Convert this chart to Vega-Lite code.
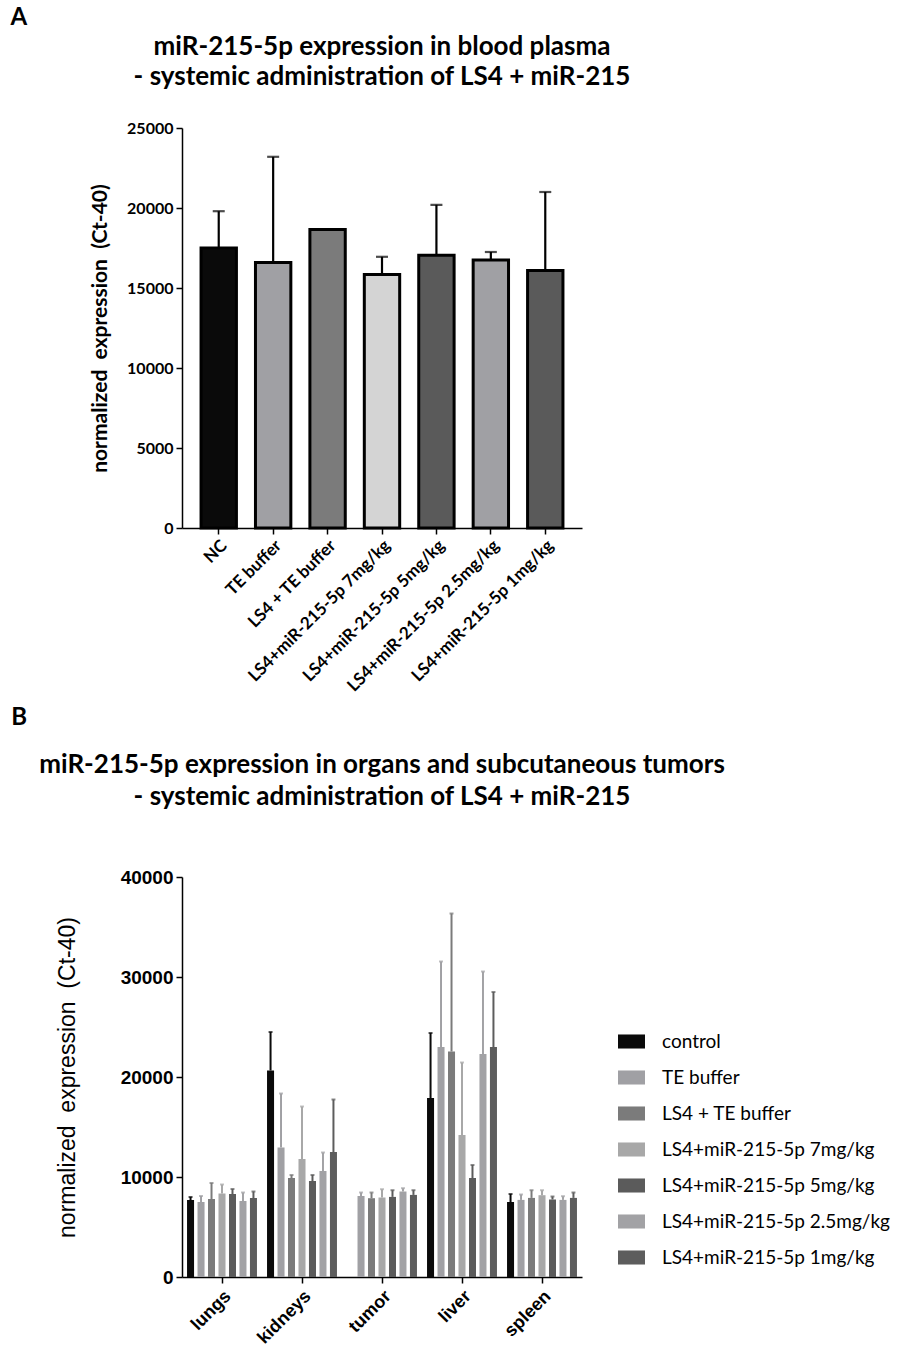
{
  "$schema": "https://vega.github.io/schema/vega-lite/v6.json",
  "background": "white",
  "padding": {"left": 10, "top": 6, "right": 5, "bottom": 5},
  "config": {
    "view": {"stroke": null},
    "axis": {"grid": false, "domainColor": "black", "tickColor": "black", "domainWidth": 1.5, "tickWidth": 1.5, "tickSize": 6, "labelColor": "black", "titleColor": "black", "labelLimit": 0}
  },
  "resolve": {"scale": {"color": "independent"}},
  "spacing": 11,
  "datasets": {
    "plasma": [
      {"grp": "NC", "value": 17500, "upper": 19800},
      {"grp": "TE buffer", "value": 16600, "upper": 23200},
      {"grp": "LS4 + TE buffer", "value": 18650, "upper": null},
      {"grp": "LS4+miR-215-5p 7mg/kg", "value": 15850, "upper": 16950},
      {"grp": "LS4+miR-215-5p 5mg/kg", "value": 17050, "upper": 20200},
      {"grp": "LS4+miR-215-5p 2.5mg/kg", "value": 16750, "upper": 17250},
      {"grp": "LS4+miR-215-5p 1mg/kg", "value": 16100, "upper": 21000}
    ],
    "organs": [
      {"organ": "lungs", "treatment": "control", "value": 7700, "upper": 8000},
      {"organ": "lungs", "treatment": "TE buffer", "value": 7500, "upper": 8100},
      {"organ": "lungs", "treatment": "LS4 + TE buffer", "value": 7800, "upper": 9400},
      {"organ": "lungs", "treatment": "LS4+miR-215-5p 7mg/kg", "value": 8350, "upper": 9250},
      {"organ": "lungs", "treatment": "LS4+miR-215-5p 5mg/kg", "value": 8300, "upper": 8800},
      {"organ": "lungs", "treatment": "LS4+miR-215-5p 2.5mg/kg", "value": 7600, "upper": 8450},
      {"organ": "lungs", "treatment": "LS4+miR-215-5p 1mg/kg", "value": 7900, "upper": 8550},
      {"organ": "kidneys", "treatment": "control", "value": 20650, "upper": 24500},
      {"organ": "kidneys", "treatment": "TE buffer", "value": 12950, "upper": 18350},
      {"organ": "kidneys", "treatment": "LS4 + TE buffer", "value": 9900, "upper": 10200},
      {"organ": "kidneys", "treatment": "LS4+miR-215-5p 7mg/kg", "value": 11800, "upper": 17050},
      {"organ": "kidneys", "treatment": "LS4+miR-215-5p 5mg/kg", "value": 9600, "upper": 10200},
      {"organ": "kidneys", "treatment": "LS4+miR-215-5p 2.5mg/kg", "value": 10600, "upper": 12450},
      {"organ": "kidneys", "treatment": "LS4+miR-215-5p 1mg/kg", "value": 12500, "upper": 17750},
      {"organ": "tumor", "treatment": "TE buffer", "value": 8100, "upper": 8450},
      {"organ": "tumor", "treatment": "LS4 + TE buffer", "value": 7880, "upper": 8450},
      {"organ": "tumor", "treatment": "LS4+miR-215-5p 7mg/kg", "value": 7950, "upper": 8780},
      {"organ": "tumor", "treatment": "LS4+miR-215-5p 5mg/kg", "value": 8010, "upper": 8680},
      {"organ": "tumor", "treatment": "LS4+miR-215-5p 2.5mg/kg", "value": 8550, "upper": 8880},
      {"organ": "tumor", "treatment": "LS4+miR-215-5p 1mg/kg", "value": 8210, "upper": 8680},
      {"organ": "liver", "treatment": "control", "value": 17900, "upper": 24400},
      {"organ": "liver", "treatment": "TE buffer", "value": 23000, "upper": 31550},
      {"organ": "liver", "treatment": "LS4 + TE buffer", "value": 22550, "upper": 36350},
      {"organ": "liver", "treatment": "LS4+miR-215-5p 7mg/kg", "value": 14200, "upper": 21450},
      {"organ": "liver", "treatment": "LS4+miR-215-5p 5mg/kg", "value": 9900, "upper": 11200},
      {"organ": "liver", "treatment": "LS4+miR-215-5p 2.5mg/kg", "value": 22300, "upper": 30550},
      {"organ": "liver", "treatment": "LS4+miR-215-5p 1mg/kg", "value": 23000, "upper": 28500},
      {"organ": "spleen", "treatment": "control", "value": 7500, "upper": 8300},
      {"organ": "spleen", "treatment": "TE buffer", "value": 7710, "upper": 8250},
      {"organ": "spleen", "treatment": "LS4 + TE buffer", "value": 7910, "upper": 8680},
      {"organ": "spleen", "treatment": "LS4+miR-215-5p 7mg/kg", "value": 8180, "upper": 8680},
      {"organ": "spleen", "treatment": "LS4+miR-215-5p 5mg/kg", "value": 7750, "upper": 8050},
      {"organ": "spleen", "treatment": "LS4+miR-215-5p 2.5mg/kg", "value": 7710, "upper": 8080},
      {"organ": "spleen", "treatment": "LS4+miR-215-5p 1mg/kg", "value": 7910, "upper": 8450}
    ]
  },
  "vconcat": [
    {
      "title": {"text": "A", "anchor": "start", "frame": "bounds", "font": "Lato", "fontSize": 24, "fontWeight": "bold", "color": "black", "dx": -79, "offset": 4},
      "vconcat": [
        {
          "title": {"text": ["miR-215-5p expression in blood plasma", "- systemic administration of LS4 + miR-215"], "anchor": "middle", "frame": "group", "font": "Lato", "fontSize": 26, "fontWeight": "bold", "color": "black", "lineHeight": 30, "offset": 30},
          "width": 400,
          "height": 400,
          "data": {"name": "plasma"},
          "encoding": {
            "x": {"field": "grp", "type": "nominal",
              "sort": ["NC", "TE buffer", "LS4 + TE buffer", "LS4+miR-215-5p 7mg/kg", "LS4+miR-215-5p 5mg/kg", "LS4+miR-215-5p 2.5mg/kg", "LS4+miR-215-5p 1mg/kg"],
              "scale": {"domain": ["NC", "TE buffer", "LS4 + TE buffer", "LS4+miR-215-5p 7mg/kg", "LS4+miR-215-5p 5mg/kg", "LS4+miR-215-5p 2.5mg/kg", "LS4+miR-215-5p 1mg/kg"], "paddingInner": 0.35, "paddingOuter": 0.35},
              "axis": {"title": null, "labelAngle": -45, "labelFont": "Lato", "labelFontWeight": "bold", "labelFontSize": 17, "labelPadding": 3}}
          },
          "layer": [
            {
              "transform": [{"filter": "datum.upper != null"}],
              "mark": {"type": "rule", "color": "black", "strokeWidth": 2.2},
              "encoding": {"y": {"field": "value", "type": "quantitative"}, "y2": {"field": "upper"}}
            },
            {
              "transform": [{"filter": "datum.upper != null"}],
              "mark": {"type": "tick", "color": "black", "size": 12, "thickness": 2.2},
              "encoding": {"y": {"field": "upper", "type": "quantitative"}}
            },
            {
              "mark": {"type": "bar", "stroke": "black", "strokeWidth": 3},
              "encoding": {
                "y": {"field": "value", "type": "quantitative", "scale": {"domain": [0, 25000], "nice": false},
                  "axis": {"values": [0, 5000, 10000, 15000, 20000, 25000], "format": "d", "title": "normalized\u00a0 expression\u00a0 (Ct-40)", "titleFont": "Lato", "titleFontSize": 21, "titleFontWeight": "bold", "titlePadding": 16, "labelFont": "Lato", "labelFontWeight": "bold", "labelFontSize": 16, "labelPadding": 3}},
                "color": {"field": "grp", "type": "nominal", "legend": null,
                  "scale": {"domain": ["NC", "TE buffer", "LS4 + TE buffer", "LS4+miR-215-5p 7mg/kg", "LS4+miR-215-5p 5mg/kg", "LS4+miR-215-5p 2.5mg/kg", "LS4+miR-215-5p 1mg/kg"],
                    "range": ["#0a0a0a", "#a0a0a4", "#7b7b7b", "#d4d4d4", "#5a5a5a", "#a0a0a4", "#5a5a5a"]}}
              }
            }
          ]
        }
      ]
    },
    {
      "title": {"text": "B", "anchor": "start", "frame": "bounds", "font": "Lato", "fontSize": 24, "fontWeight": "bold", "color": "black", "dx": -28, "offset": 22},
      "vconcat": [
        {
          "title": {"text": ["miR-215-5p expression in organs and subcutaneous tumors", "- systemic administration of LS4 + miR-215"], "anchor": "middle", "frame": "group", "font": "Lato", "fontSize": 26, "fontWeight": "bold", "color": "black", "lineHeight": 32, "offset": 58},
          "width": 400,
          "height": 400,
          "data": {"name": "organs"},
          "encoding": {
            "x": {"field": "organ", "type": "nominal", "sort": ["lungs", "kidneys", "tumor", "liver", "spleen"], "scale": {"paddingInner": 0, "paddingOuter": 0},
              "axis": {"title": null, "labelAngle": -45, "labelFont": "Liberation Sans", "labelFontWeight": "bold", "labelFontSize": 18, "labelPadding": 4}},
            "xOffset": {"field": "treatment", "type": "nominal", "sort": ["control", "TE buffer", "LS4 + TE buffer", "LS4+miR-215-5p 7mg/kg", "LS4+miR-215-5p 5mg/kg", "LS4+miR-215-5p 2.5mg/kg", "LS4+miR-215-5p 1mg/kg"], "scale": {"paddingInner": 0.33, "paddingOuter": 0.48}},
            "color": {"field": "treatment", "type": "nominal", "sort": ["control", "TE buffer", "LS4 + TE buffer", "LS4+miR-215-5p 7mg/kg", "LS4+miR-215-5p 5mg/kg", "LS4+miR-215-5p 2.5mg/kg", "LS4+miR-215-5p 1mg/kg"],
              "scale": {"domain": ["control", "TE buffer", "LS4 + TE buffer", "LS4+miR-215-5p 7mg/kg", "LS4+miR-215-5p 5mg/kg", "LS4+miR-215-5p 2.5mg/kg", "LS4+miR-215-5p 1mg/kg"],
                "range": ["#0a0a0a", "#a0a0a4", "#7b7b7b", "#a8a8a8", "#5b5b5b", "#a2a2a5", "#5d5d5d"]},
              "legend": {"title": null, "orient": "none", "legendX": 436, "legendY": 151, "labelFont": "Lato", "labelFontSize": 19, "labelColor": "black", "labelLimit": 0, "labelOffset": 17, "rowPadding": 12, "symbolType": "M-1,-0.52H1V0.52H-1Z", "symbolSize": 729, "symbolStrokeWidth": 0, "symbolOpacity": 1}}
          },
          "layer": [
            {
              "mark": {"type": "rule", "strokeWidth": 2},
              "encoding": {"y": {"field": "value", "type": "quantitative"}, "y2": {"field": "upper"}}
            },
            {
              "mark": {"type": "tick", "size": 4, "thickness": 2},
              "encoding": {"y": {"field": "upper", "type": "quantitative"}}
            },
            {
              "mark": {"type": "bar"},
              "encoding": {
                "y": {"field": "value", "type": "quantitative", "scale": {"domain": [0, 40000], "nice": false},
                  "axis": {"values": [0, 10000, 20000, 30000, 40000], "format": "d", "title": "normalized\u00a0 expression\u00a0 (Ct-40)", "titleFont": "Liberation Sans", "titleFontSize": 23, "titleFontWeight": "normal", "titlePadding": 41, "labelFont": "Liberation Sans", "labelFontWeight": "bold", "labelFontSize": 19, "labelPadding": 3}}
              }
            }
          ]
        }
      ]
    }
  ]
}
